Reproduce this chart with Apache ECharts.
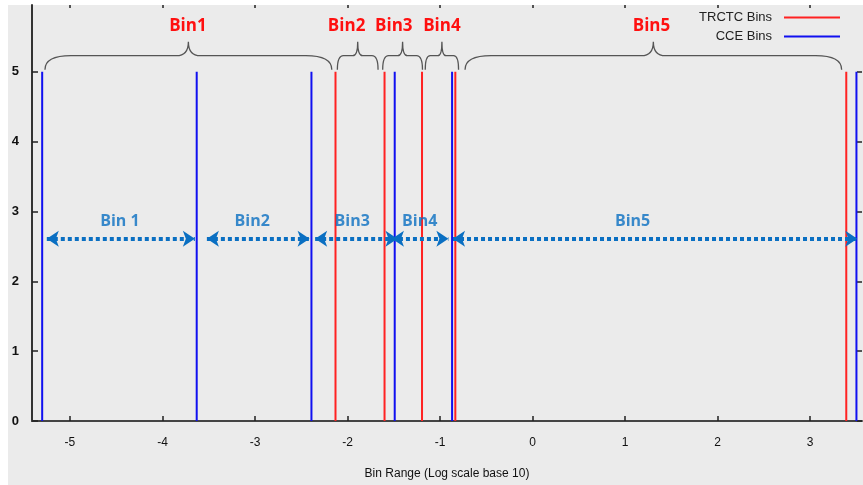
<!DOCTYPE html>
<html>
<head>
<meta charset="utf-8">
<script src="https://cdn.jsdelivr.net/npm/echarts@6/dist/echarts.min.js"></script>
<style>
  html, body { margin: 0; padding: 0; background: #ffffff; }
  #chart { width: 863px; height: 485px; }
</style>
</head>
<body>
<div id="chart"></div>
<script>
// bin edges (log10 of range)
const trctcEdges = [-2.13, -1.60, -1.195, -0.835, 3.39];
const cceEdges = [-5.30, -3.63, -2.39, -1.49, -0.87, 3.50];
const edgeHeight = 5;

// red braces on top (TRCTC bins)
const braceNames = ['Bin1', 'Bin2', 'Bin3', 'Bin4', 'Bin5'];
const braceStart = [-5.27, -2.11, -1.62, -1.16, -0.73];
const braceEnd = [-2.17, -1.67, -1.19, -0.80, 3.34];
const braceLabelX = [-3.725, -2.01, -1.50, -0.98, 1.285];

// blue dotted arrows (CCE bins)
const arrowNames = ['Bin 1', 'Bin2', 'Bin3', 'Bin4', 'Bin5'];
const arrowStart = [-5.25, -3.52, -2.35, -1.52, -0.86];
const arrowEnd = [-3.65, -2.41, -1.46, -0.91, 3.51];
const arrowLevel = 2.61;
const arrowLabelX = [-4.46, -3.03, -1.95, -1.22, 1.08];
const arrowLabelLevel = 2.85;

const xTicks = [-5, -4, -3, -2, -1, 0, 1, 2, 3];
const yTicks = [0, 1, 2, 3, 4, 5];

// vertical segments, separated by gaps
function edgeData(edges) {
  let out = [];
  edges.forEach(x => {
    out.push([x, 0]);
    out.push([x, edgeHeight]);
    out.push([x, '-']);
  });
  return out;
}

const chart = echarts.init(document.getElementById('chart'));

chart.setOption({
  animation: false,
  graphic: [{
    type: 'rect',
    z: -100,
    silent: true,
    shape: { x: 8, y: 5, width: 855, height: 480 },
    style: { fill: '#ebebeb' }
  }],
  grid: { left: 32, right: 1, top: 5, bottom: 62 },
  legend: {
    orient: 'vertical',
    align: 'right',
    right: 18,
    top: 6,
    itemWidth: 56,
    itemHeight: 2,
    itemGap: 6,
    data: [
      { name: 'TRCTC Bins', icon: 'rect' },
      { name: 'CCE Bins', icon: 'rect' }
    ],
    textStyle: {
      fontFamily: 'Liberation Sans',
      fontSize: 13,
      color: '#222',
      padding: [0, 7, 0, 0]
    }
  },
  xAxis: [{
    type: 'value',
    min: -5.41,
    max: 3.56,
    name: 'Bin Range (Log scale base 10)',
    nameLocation: 'middle',
    nameGap: 47,
    nameTextStyle: { fontFamily: 'Liberation Sans', fontSize: 12, color: '#111' },
    axisLine: { show: true, onZero: false, lineStyle: { color: '#444', width: 2 } },
    axisTick: { show: true, inside: true, length: 5, customValues: xTicks, lineStyle: { color: '#222', width: 1.5 } },
    axisLabel: {
      customValues: xTicks,
      margin: 16,
      fontFamily: 'Liberation Sans',
      fontSize: 12,
      color: '#111'
    },
    splitLine: { show: false }
  }, {
    type: 'value',
    position: 'top',
    min: -5.41,
    max: 3.56,
    axisLine: { show: false, onZero: false },
    axisTick: { show: true, inside: true, length: 3, customValues: xTicks, lineStyle: { color: '#222', width: 1.5 } },
    axisLabel: { show: false },
    splitLine: { show: false }
  }],
  yAxis: [{
    type: 'value',
    min: 0,
    max: 5.954,
    axisLine: { show: true, onZero: false, lineStyle: { color: '#333', width: 2 } },
    axisTick: { show: true, inside: true, length: 6, customValues: yTicks, lineStyle: { color: '#222', width: 1.5 } },
    axisLabel: {
      customValues: yTicks,
      margin: 13,
      fontFamily: 'Liberation Sans',
      fontWeight: 'bold',
      fontSize: 13,
      color: '#111'
    },
    splitLine: { show: false }
  }, {
    type: 'value',
    position: 'right',
    min: 0,
    max: 5.954,
    axisLine: { show: false, onZero: false },
    axisTick: { show: true, inside: true, length: 5, customValues: yTicks, lineStyle: { color: '#222', width: 1.5 } },
    axisLabel: { show: false },
    splitLine: { show: false }
  }],
  series: [
    {
      name: 'TRCTC Bins',
      type: 'line',
      symbol: 'none',
      connectNulls: false,
      lineStyle: { color: '#f22', width: 2 },
      itemStyle: { color: '#f22' },
      emphasis: { disabled: true },
      z: 3,
      data: edgeData(trctcEdges)
    },
    {
      name: 'CCE Bins',
      type: 'line',
      symbol: 'none',
      connectNulls: false,
      lineStyle: { color: '#1010f0', width: 2 },
      itemStyle: { color: '#1010f0' },
      emphasis: { disabled: true },
      z: 3,
      data: edgeData(cceEdges)
    },
    {
      // curly braces + red labels
      type: 'custom',
      silent: true,
      z: 4,
      data: braceStart.map((s, i) => [s, braceEnd[i], braceLabelX[i]]),
      renderItem: function (params, api) {
        let p0 = api.coord([api.value(0), edgeHeight]);
        let p1 = api.coord([api.value(1), edgeHeight]);
        let pl = api.coord([api.value(2), edgeHeight]);
        let x0 = p0[0], x1 = p1[0];
        let yb = p0[1] - 2;
        let yf = yb - 14;
        let yt = yb - 28;
        let w = x1 - x0;
        let xm = (x0 + x1) / 2;
        let r = Math.min(26, w * 0.15);
        let r2 = Math.min(12, w * 0.12);
        let d = 'M' + x0 + ',' + yb +
          ' Q' + x0 + ',' + yf + ' ' + (x0 + r) + ',' + yf +
          ' L' + (xm - r2) + ',' + yf +
          ' Q' + xm + ',' + yf + ' ' + xm + ',' + yt +
          ' Q' + xm + ',' + yf + ' ' + (xm + r2) + ',' + yf +
          ' L' + (x1 - r) + ',' + yf +
          ' Q' + x1 + ',' + yf + ' ' + x1 + ',' + yb;
        return {
          type: 'group',
          children: [{
            type: 'path',
            shape: { pathData: d },
            style: { stroke: '#555', fill: 'none', lineWidth: 1.3 }
          }, {
            type: 'text',
            style: {
              text: braceNames[params.dataIndex],
              x: pl[0],
              y: yt - 15,
              align: 'center',
              verticalAlign: 'middle',
              fill: '#ff1010',
              font: 'bold 17px "Open Sans"'
            }
          }]
        };
      }
    },
    {
      // dotted double arrows
      type: 'lines',
      coordinateSystem: 'cartesian2d',
      silent: true,
      z: 5,
      symbol: ['arrow', 'arrow'],
      symbolSize: 12,
      lineStyle: { color: '#0a6fc2', width: 4, type: [4, 3], opacity: 1, curveness: 0 },
      data: arrowStart.map((s, i) => ({ coords: [[s, arrowLevel], [arrowEnd[i], arrowLevel]] }))
    },
    {
      // arrow labels
      type: 'scatter',
      symbolSize: 0,
      silent: true,
      z: 6,
      label: {
        show: true,
        position: 'inside',
        formatter: '{b}',
        color: '#0a6fc2',
        fontFamily: 'Open Sans',
        fontWeight: 'bold',
        fontSize: 16
      },
      data: arrowLabelX.map((x, i) => ({ name: arrowNames[i], value: [x, arrowLabelLevel] }))
    }
  ]
});
</script>
</body>
</html>
